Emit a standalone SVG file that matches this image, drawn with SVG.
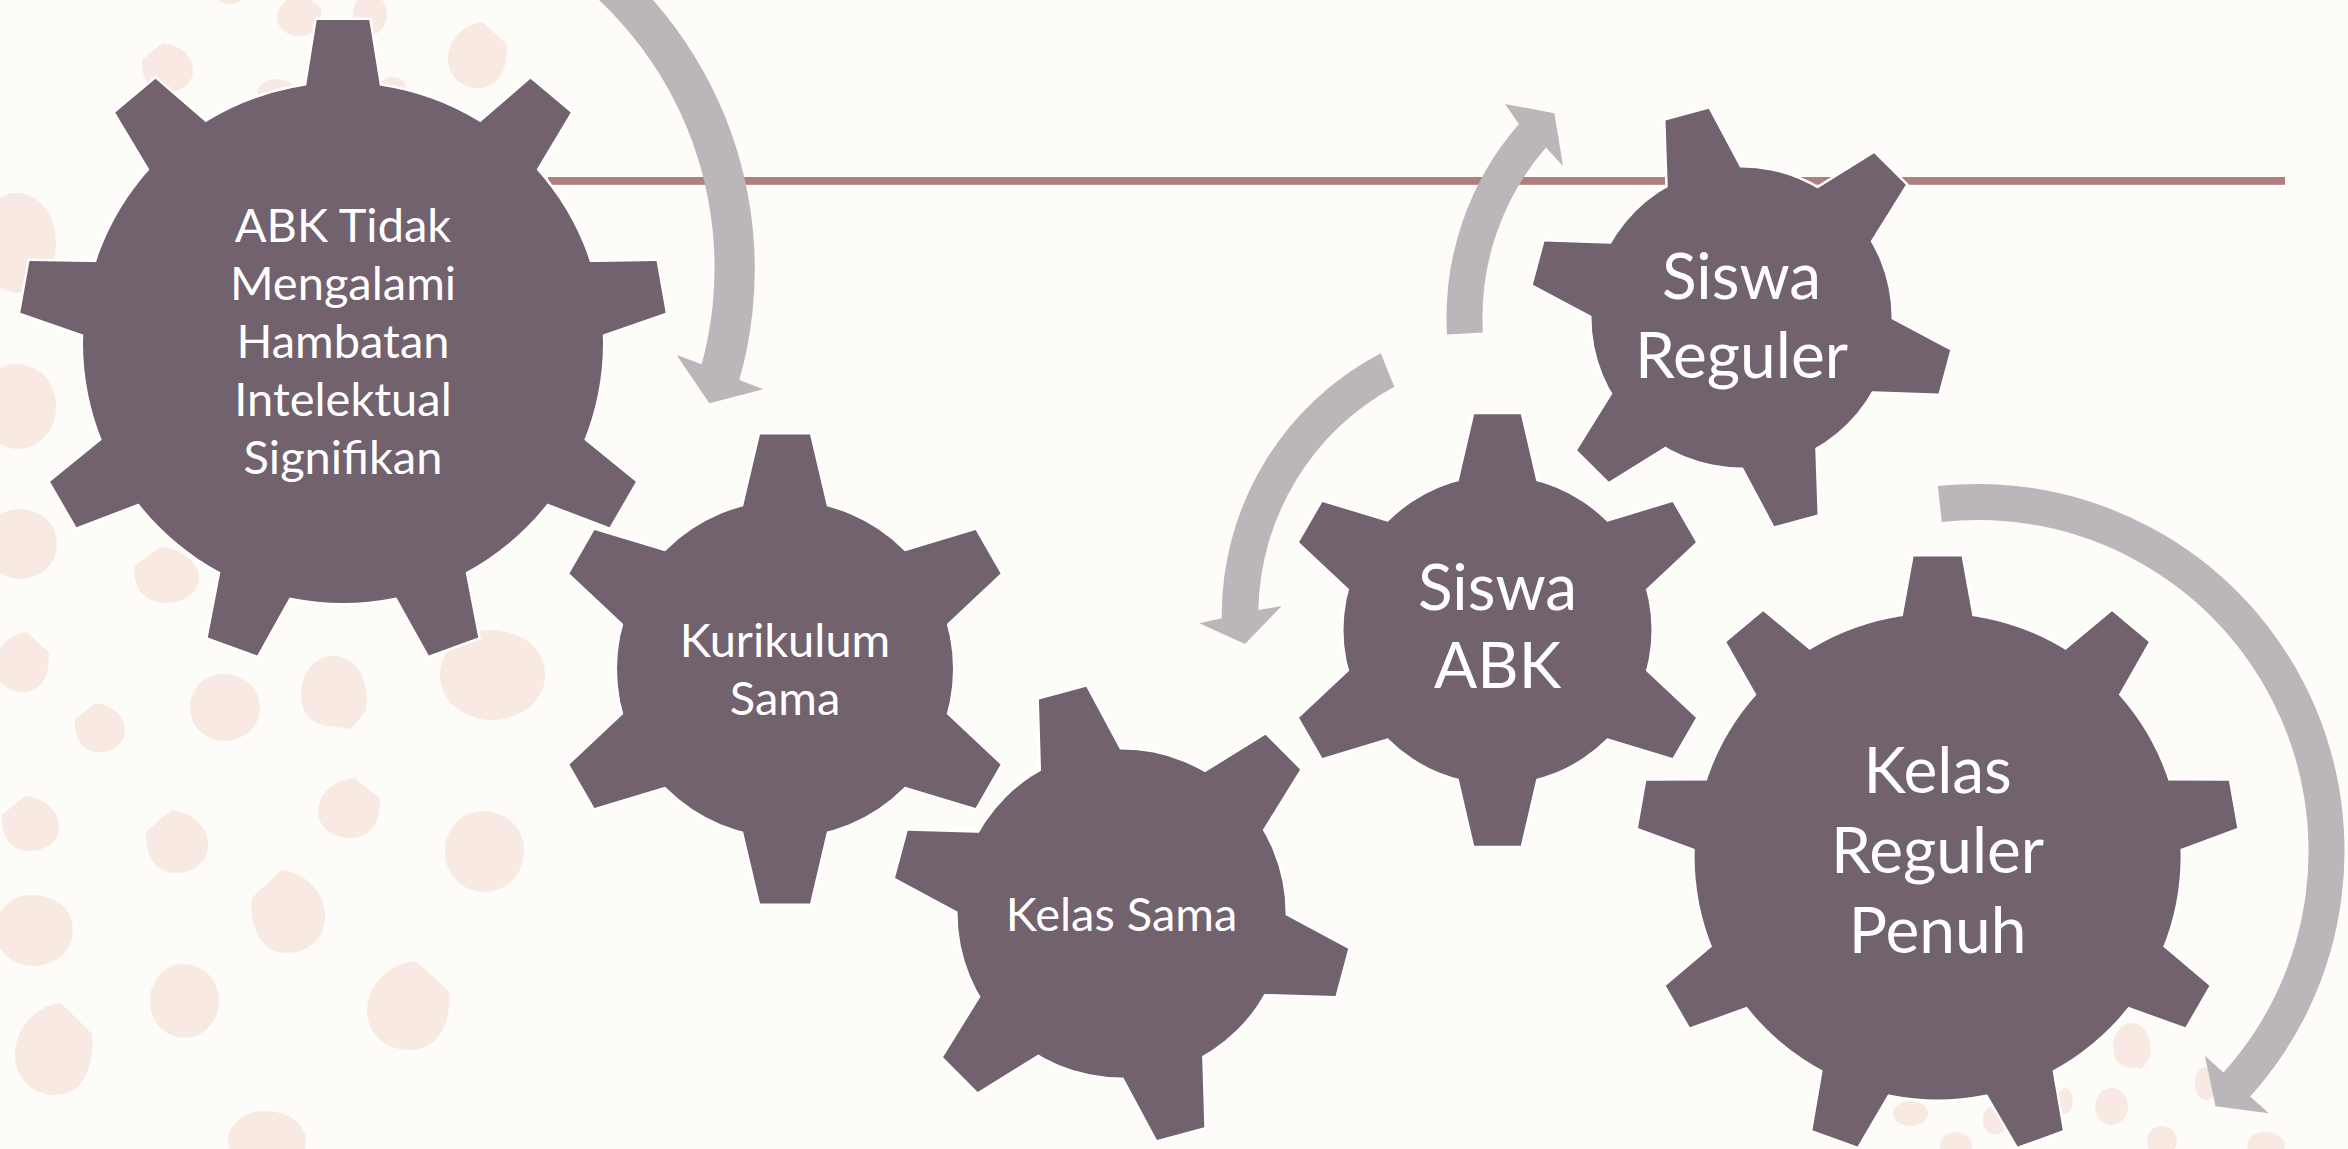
<svg xmlns="http://www.w3.org/2000/svg" xmlns:xlink="http://www.w3.org/1999/xlink" width="2348" height="1149" viewBox="0 0 2348 1149">
  <style>
    .bg { fill: #FDFCF8; }
    .blob { fill: #F8EAE2; }
    .rule { fill: #AE7F7F; }
    .halo { fill: #FFFFFF; stroke: #FFFFFF; stroke-width: 5; stroke-linejoin: miter; }
    .body { fill: #71626E; }
    .arrow { fill: #BAB6BA; }
    .lbl { font-family: Lato, "Open Sans", "Liberation Sans", sans-serif; fill: #FFFFFF; text-anchor: middle; }
    .s { font-size: 47px; }
    .l { font-size: 64px; }
  </style>
  <defs>
    <!-- pebble shapes in a unit box -->
    <path id="pb1" d="M0.02 0.34 L0.42 0 C0.74 0.03 1 0.27 1 0.56 C1 0.83 0.76 1 0.5 1 C0.21 1 0 0.8 0.02 0.34 Z"/>
    <path id="pb2" d="M0.98 0.34 L0.58 0 C0.26 0.03 0 0.27 0 0.56 C0 0.83 0.24 1 0.5 1 C0.79 1 1 0.8 0.98 0.34 Z"/>
    <path id="pb3" d="M0.96 0.74 C1.02 0.32 0.8 0 0.48 0 C0.18 0 0 0.26 0 0.52 C0 0.78 0.16 0.94 0.4 0.96 L0.74 1 Z"/>
    <path id="pb4" d="M0.5 0 C0.82 0.02 1 0.24 1 0.5 C1 0.8 0.76 1 0.48 1 C0.2 0.98 0 0.78 0 0.5 C0 0.22 0.22 -0.02 0.5 0 Z"/>

    <!-- gear teeth, pointing up from the gear centre -->
    <polygon id="t9a" points="-40.4,-235 -26.3,-323 26.3,-323 40.4,-235"/>
    <polygon id="t9b" points="-38.5,-220 -24,-300 24,-300 38.5,-220"/>
    <polygon id="t6k" points="-47.2,-140 -25,-234.5 25,-234.5 47.2,-140"/>
    <polygon id="t6s" points="-46.2,-136 -24.5,-228 24.5,-228 46.2,-136"/>
    <polygon id="t6a" points="-43.2,-130 -23.3,-215.7 23.3,-215.7 43.2,-130"/>
    <polygon id="t6r" points="-42.1,-125 -22.4,-210 22.4,-210 42.1,-125"/>

    <!-- gear silhouettes -->
    <g id="gearA">
      <circle r="260"/>
      <use href="#t9a"/><use href="#t9a" transform="rotate(40)"/><use href="#t9a" transform="rotate(80)"/>
      <use href="#t9a" transform="rotate(120)"/><use href="#t9a" transform="rotate(160)"/><use href="#t9a" transform="rotate(200)"/>
      <use href="#t9a" transform="rotate(240)"/><use href="#t9a" transform="rotate(280)"/><use href="#t9a" transform="rotate(320)"/>
    </g>
    <g id="gearB">
      <circle r="243"/>
      <use href="#t9b"/><use href="#t9b" transform="rotate(40)"/><use href="#t9b" transform="rotate(80)"/>
      <use href="#t9b" transform="rotate(120)"/><use href="#t9b" transform="rotate(160)"/><use href="#t9b" transform="rotate(200)"/>
      <use href="#t9b" transform="rotate(240)"/><use href="#t9b" transform="rotate(280)"/><use href="#t9b" transform="rotate(320)"/>
    </g>
    <g id="gearK">
      <circle r="168"/>
      <use href="#t6k"/><use href="#t6k" transform="rotate(60)"/><use href="#t6k" transform="rotate(120)"/>
      <use href="#t6k" transform="rotate(180)"/><use href="#t6k" transform="rotate(240)"/><use href="#t6k" transform="rotate(300)"/>
    </g>
    <g id="gearS">
      <circle r="164"/>
      <use href="#t6s" transform="rotate(-15)"/><use href="#t6s" transform="rotate(45)"/><use href="#t6s" transform="rotate(105)"/>
      <use href="#t6s" transform="rotate(165)"/><use href="#t6s" transform="rotate(225)"/><use href="#t6s" transform="rotate(285)"/>
    </g>
    <g id="gearC">
      <circle r="154"/>
      <use href="#t6a"/><use href="#t6a" transform="rotate(60)"/><use href="#t6a" transform="rotate(120)"/>
      <use href="#t6a" transform="rotate(180)"/><use href="#t6a" transform="rotate(240)"/><use href="#t6a" transform="rotate(300)"/>
    </g>
    <g id="gearR">
      <circle r="150"/>
      <use href="#t6r" transform="rotate(-15)"/><use href="#t6r" transform="rotate(45)"/><use href="#t6r" transform="rotate(105)"/>
      <use href="#t6r" transform="rotate(165)"/><use href="#t6r" transform="rotate(225)"/><use href="#t6r" transform="rotate(285)"/>
    </g>
  </defs>

  <rect class="bg" x="0" y="0" width="2348" height="1149"/>

  <!-- scattered pebbles -->
  <g id="pebbles" class="blob">
    <use href="#pb4" transform="translate(215 -18) scale(30 22)"/>
    <use href="#pb2" transform="translate(277 -6) scale(45 42)"/>
    <use href="#pb4" transform="translate(353 -6) scale(34 41)"/>
    <use href="#pb1" transform="translate(141 43) scale(52 49)"/>
    <use href="#pb2" transform="translate(448 22) scale(60 66)"/>
    <use href="#pb4" transform="translate(257 79) scale(40 30)"/>
    <use href="#pb4" transform="translate(380 77) scale(26 20)"/>
    <use href="#pb4" transform="translate(-20 193) scale(76 100)"/>
    <use href="#pb4" transform="translate(-20 364) scale(76 85)"/>
    <use href="#pb4" transform="translate(-15 509) scale(72 70)"/>
    <use href="#pb1" transform="translate(133 547) scale(66 56)"/>
    <use href="#pb2" transform="translate(-5 632) scale(55 60)"/>
    <use href="#pb1" transform="translate(74 703) scale(51 49)"/>
    <use href="#pb4" transform="translate(190 674) scale(70 67)"/>
    <use href="#pb3" transform="translate(301 656) scale(68 73)"/>
    <use href="#pb4" transform="translate(440 630) scale(105 90)"/>
    <use href="#pb1" transform="translate(1 796) scale(58 55)"/>
    <use href="#pb1" transform="translate(145 810) scale(63 63)"/>
    <use href="#pb2" transform="translate(318 778) scale(63 60)"/>
    <use href="#pb4" transform="translate(445 811) scale(79 81)"/>
    <use href="#pb4" transform="translate(-5 895) scale(78 71)"/>
    <use href="#pb1" transform="translate(250 870) scale(75 83)"/>
    <use href="#pb4" transform="translate(150 964) scale(69 74)"/>
    <use href="#pb2" transform="translate(367 961) scale(84 89)"/>
    <use href="#pb2" transform="translate(15 1003) scale(79 92)"/>
    <use href="#pb4" transform="translate(228 1111) scale(78 60)"/>
    <use href="#pb4" transform="translate(1893 1101) scale(35 25)"/>
    <use href="#pb4" transform="translate(1940 1132) scale(32 28)"/>
    <use href="#pb4" transform="translate(1983 1105) scale(24 30)"/>
    <use href="#pb4" transform="translate(2058 1088) scale(15 26)"/>
    <use href="#pb4" transform="translate(2095 1088) scale(33 37)"/>
    <use href="#pb3" transform="translate(2113 1023) scale(39 46)"/>
    <use href="#pb4" transform="translate(2147 1126) scale(30 30)"/>
    <use href="#pb4" transform="translate(2195 1067) scale(22 33)"/>
    <use href="#pb4" transform="translate(2247 1132) scale(38 28)"/>
  </g>

  <!-- title rule -->
  <rect class="rule" x="548" y="177" width="1737" height="7.8"/>

  <!-- gears -->
  <g id="node-abk-tidak" transform="translate(343 343)">
    <use href="#gearA" class="halo"/><use href="#gearA" class="body"/>
    <text class="lbl s"><tspan x="0" y="-101">ABK Tidak</tspan><tspan x="0" y="-43">Mengalami</tspan><tspan x="0" y="15">Hambatan</tspan><tspan x="0" y="73">Intelektual</tspan><tspan x="0" y="131">Signifikan</tspan></text>
  </g>
  <g id="node-kurikulum-sama" transform="translate(785 669)">
    <use href="#gearK" class="halo"/><use href="#gearK" class="body"/>
    <text class="lbl s"><tspan x="0" y="-12">Kurikulum</tspan><tspan x="0" y="46">Sama</tspan></text>
  </g>
  <g id="node-kelas-sama" transform="translate(1121.6 913.4)">
    <use href="#gearS" class="halo"/><use href="#gearS" class="body"/>
    <text class="lbl s" x="0" y="18">Kelas Sama</text>
  </g>
  <g id="node-siswa-abk" transform="translate(1497.5 630)">
    <use href="#gearC" class="halo"/><use href="#gearC" class="body"/>
    <text class="lbl l"><tspan x="0" y="-20">Siswa</tspan><tspan x="0" y="58">ABK</tspan></text>
  </g>
  <g id="node-siswa-reguler" transform="translate(1741.5 317.5)">
    <use href="#gearR" class="halo"/><use href="#gearR" class="body"/>
    <text class="lbl l"><tspan x="0" y="-18.5">Siswa</tspan><tspan x="0" y="60">Reguler</tspan></text>
  </g>
  <g id="node-kelas-reguler-penuh" transform="translate(1937.6 856.5)">
    <use href="#gearB" class="halo"/><use href="#gearB" class="body"/>
    <text class="lbl l"><tspan x="0" y="-64">Kelas</tspan><tspan x="0" y="16">Reguler</tspan><tspan x="0" y="96">Penuh</tspan></text>
  </g>

  <!-- circular arrows -->
  <g id="connectors" class="arrow">
    <path d="M550 -83.6 A406 406 0 0 1 739.3 380 L763.3 389.3 L709.3 403.3 L676.7 355 L701.7 364.3 A368 368 0 0 0 531 -50.7 Z"/>
    <path d="M1380.7 353.3 A296 296 0 0 0 1221.7 618.3 L1199.3 623.3 L1245 644 L1281.7 606 L1258.3 610 A260 260 0 0 1 1394.3 386.7 Z"/>
    <path d="M1447 334.5 A295 295 0 0 1 1518.9 124 L1505 104 L1554.4 113.3 L1563 166 L1546 147.6 A259 259 0 0 0 1482.9 332.4 Z"/>
    <path d="M1937.9 486.1 A367 367 0 0 1 2250.2 1096.6 L2268.8 1113.3 L2215.5 1106.3 L2204.9 1055.7 L2223.5 1072.5 A331 331 0 0 0 1941.8 521.9 Z"/>
  </g>
</svg>
